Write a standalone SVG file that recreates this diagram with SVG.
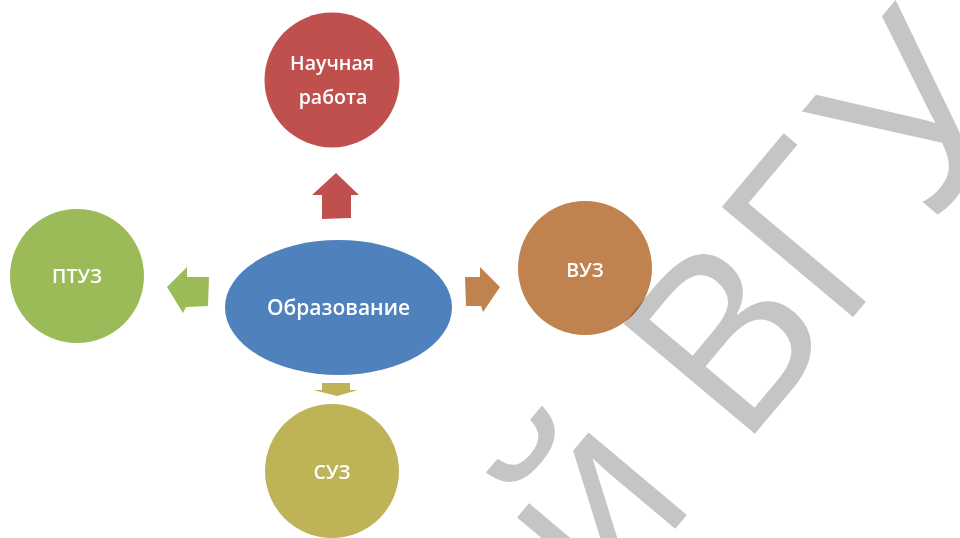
<svg xmlns="http://www.w3.org/2000/svg" width="960" height="538" viewBox="0 0 960 538">
<style>
.lbl{font-family:"Open Sans","DejaVu Sans",sans-serif;font-weight:600;fill:#ffffff;text-anchor:middle}
.wm{font-family:"Open Sans","DejaVu Sans",sans-serif;font-size:240px;fill:#c5c5c5;mix-blend-mode:multiply}
</style>
<rect width="960" height="538" fill="#ffffff"/>
<g id="connectors">
<polygon points="336,173 359,195 351,195 351,218 322,219 322,195 312,195" fill="#c0504d"/>
<polygon points="167,287 187,267 187,277 209,277 208,306 186,307 183,313" fill="#9bbb59"/>
<polygon points="500,287 483,312 481,306 466,306 465,277 480,277 480,267" fill="#c0834f"/>
<polygon points="322,383 350,383 350,390 358,390 337,396 313,390 322,390" fill="#bfb357"/>
</g>
<g id="center">
<ellipse cx="338.5" cy="307.5" rx="113.5" ry="67.5" fill="#4f81bd"/>
<text class="lbl" x="338.5" y="315" font-size="21">Образование</text>
</g>
<g id="science">
<circle cx="332" cy="80" r="67.5" fill="#c0504d"/>
<text class="lbl" x="332" y="70" font-size="19.5">Научная</text>
<text class="lbl" x="333" y="104" font-size="19.5">работа</text>
</g>
<g id="ptuz">
<circle cx="77" cy="276" r="67" fill="#9bbb59"/>
<text class="lbl" x="77" y="283" font-size="19.5">ПТУЗ</text>
</g>
<g id="vuz">
<circle cx="585" cy="268" r="67" fill="#c0834f"/>
<text class="lbl" x="585" y="277" font-size="19.5">ВУЗ</text>
</g>
<g id="suz">
<circle cx="332" cy="471" r="67" fill="#bfb357"/>
<text class="lbl" x="332" y="479" font-size="19.5">СУЗ</text>
</g>
<text class="wm" transform="translate(853,317) rotate(-50)" x="-390 -300 -176 -23.5 122" y="0">й ВГУ</text>
</svg>
